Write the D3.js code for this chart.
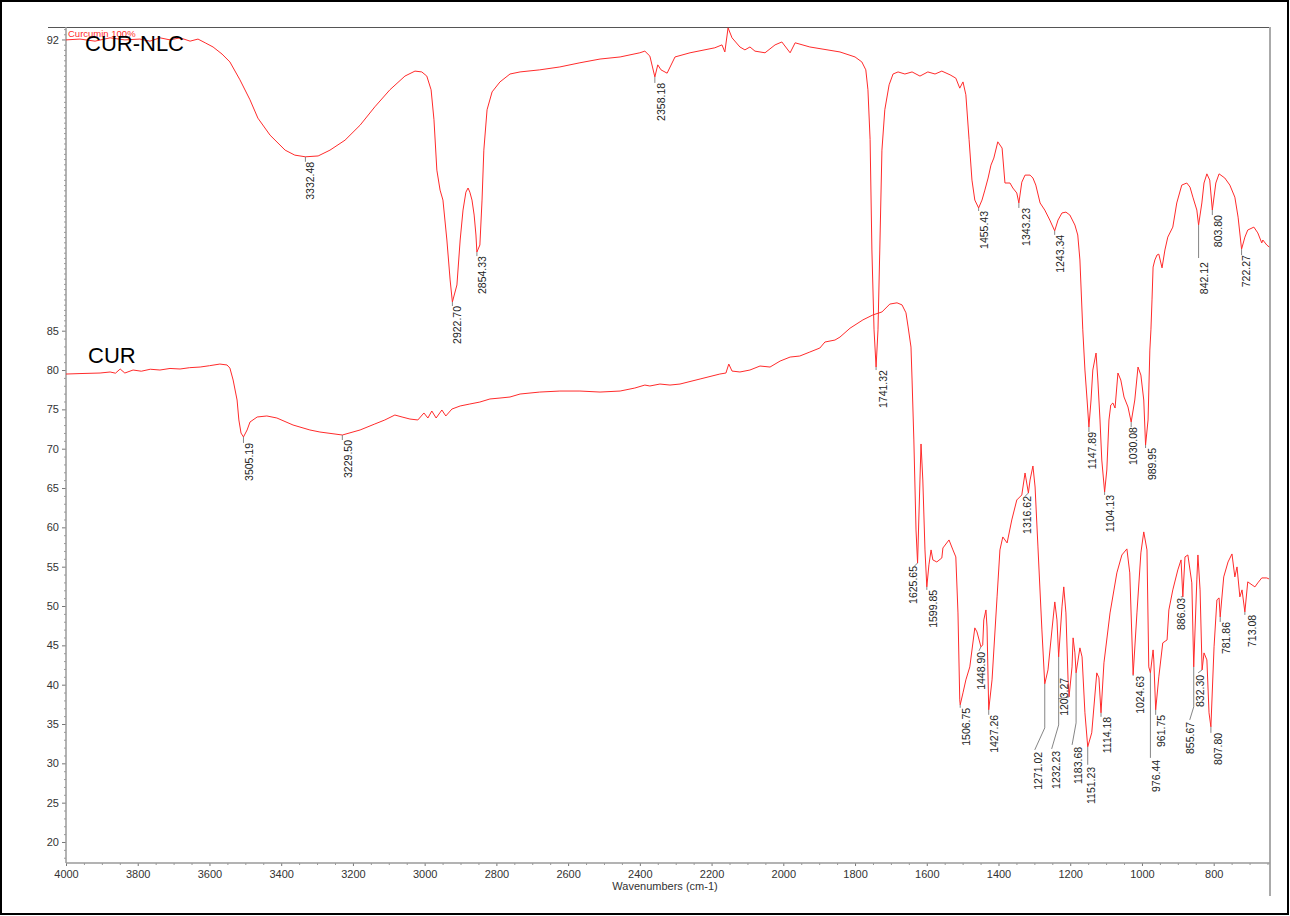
<!DOCTYPE html>
<html><head><meta charset="utf-8">
<script src="https://cdn.jsdelivr.net/npm/d3@7"></script>
<style>
html,body{margin:0;padding:0;background:#fff;}
svg{display:block;}
text{font-family:"Liberation Sans",Arial,sans-serif;}
</style></head><body>
<svg id="chart" width="1290" height="916"></svg>
<script>
// ---------- DATA ----------
const curNlcSpectrum = [
[4000,91.99],[3961,92.01],[3919,91.96],[3877,92.04],[3836,91.99],[3794,92.01],[3766,91.96],[3738,92.04],[3710,91.99],[3682,92.04],[3654,91.96],[3632,92.01],[3612,91.92],[3590,91.82],[3565,91.65],[3543,91.46],[3515,91.03],[3487,90.55],[3465,90.11],[3431,89.70],[3389,89.34],[3362,89.22],[3332.48,89.18],[3297,89.20],[3264,89.34],[3222,89.58],[3180,89.94],[3139,90.38],[3097,90.79],[3055,91.12],[3027,91.24],[3008,91.22],[2994,91.12],[2982,90.79],[2974,90.07],[2966,88.86],[2957,88.38],[2949,88.14],[2938,87.18],[2929,86.22],[2922.70,85.69],[2910,86.10],[2901,87.18],[2893,87.90],[2885,88.33],[2879,88.43],[2874,88.33],[2868,88.14],[2862,87.78],[2857,87.30],[2854.33,86.89],[2846,87.06],[2840,88.14],[2835,89.34],[2826,90.31],[2812,90.74],[2790,90.98],[2762,91.17],[2734,91.22],[2679,91.27],[2623,91.34],[2567,91.44],[2511,91.53],[2455,91.58],[2400,91.68],[2386,91.72],[2372,91.60],[2358.18,91.10],[2350,91.39],[2341,91.27],[2324,91.19],[2302,91.58],[2260,91.68],[2191,91.80],[2171,91.87],[2163,91.70],[2154,92.28],[2143,92.04],[2121,91.82],[2107,91.75],[2093,91.82],[2079,91.72],[2051,91.68],[2023,91.87],[2004,91.94],[1981,91.68],[1967,91.92],[1926,91.82],[1842,91.70],[1800,91.58],[1781,91.46],[1770,91.27],[1764,90.79],[1758,89.59],[1753,86.94],[1747,85.02],[1741.32,80.38],[1736,85.02],[1731,86.94],[1725,89.34],[1717,90.31],[1705,90.91],[1694,91.17],[1680,91.22],[1661,91.17],[1641,91.22],[1619,91.12],[1597,91.22],[1577,91.17],[1558,91.24],[1535,91.15],[1519,91.07],[1508,90.83],[1499,90.98],[1491,90.67],[1482,89.59],[1474,88.62],[1466,88.14],[1455.43,87.95],[1446,88.14],[1438,88.38],[1429,88.67],[1421,88.98],[1413,89.15],[1402,89.54],[1390,89.39],[1382,88.55],[1368,88.55],[1360,88.43],[1349,88.31],[1343.23,88.07],[1335,88.57],[1326,88.74],[1312,88.74],[1304,88.67],[1296,88.50],[1284,88.07],[1271,87.90],[1257,87.66],[1243.34,87.40],[1234,87.66],[1223,87.83],[1212,87.85],[1201,87.78],[1187,87.54],[1179,87.30],[1173,86.70],[1165,85.02],[1159,80.00],[1153,76.19],[1147.89,72.76],[1142,76.19],[1137,80.00],[1128,82.16],[1123,78.73],[1117,73.65],[1112,68.56],[1104.13,64.50],[1098,67.29],[1092,73.65],[1087,75.55],[1081,75.81],[1075,75.17],[1067,79.62],[1059,78.73],[1050,76.57],[1039,75.30],[1030.08,73.39],[1020,76.19],[1011,80.38],[1003,79.36],[995,76.19],[989.95,70.47],[983,73.65],[978,82.54],[975,85.02],[972,85.74],[969,86.53],[964,86.70],[958,86.82],[953,86.84],[944,86.51],[936,86.94],[928,87.25],[914,87.49],[903,88.07],[889,88.50],[875,88.55],[866,88.45],[858,88.21],[847,87.90],[842.12,87.54],[833,88.07],[827,88.55],[819,88.77],[811,88.62],[803.80,87.90],[794,88.55],[785,88.77],[769,88.67],[755,88.50],[741,88.21],[732,87.73],[722.27,86.96],[713,87.25],[705,87.42],[688,87.49],[677,87.35],[666,87.11],[663,87.18],[652,87.06],[645,87.01]
];

const curSpectrum = [
[4000,79.49],[3961,79.55],[3905,79.62],[3877,79.75],[3862,79.60],[3849,80.13],[3836,79.62],[3813,80.00],[3790,79.85],[3765,80.10],[3738,80.00],[3710,80.20],[3682,80.13],[3655,80.30],[3626,80.38],[3600,80.55],[3571,80.76],[3551,80.64],[3543,80.25],[3534,78.73],[3523,76.19],[3518,73.65],[3512,71.99],[3505.19,71.49],[3495,72.38],[3487,73.39],[3467,74.03],[3440,74.16],[3412,73.90],[3367,73.01],[3320,72.38],[3292,72.12],[3229.50,71.74],[3180,72.38],[3139,73.14],[3111,73.65],[3083,74.28],[3063,74.03],[3041,73.77],[3019,73.65],[3002,74.54],[2991,73.90],[2980,74.79],[2968,73.90],[2952,74.92],[2941,74.16],[2924,75.04],[2901,75.43],[2874,75.68],[2846,75.93],[2818,76.32],[2790,76.44],[2762,76.57],[2734,76.95],[2679,77.20],[2623,77.33],[2567,77.33],[2511,77.20],[2455,77.33],[2414,77.71],[2386,78.09],[2372,77.97],[2344,78.22],[2316,78.09],[2288,78.22],[2232,78.86],[2177,79.49],[2160,79.62],[2152,80.76],[2143,79.87],[2121,79.75],[2093,80.00],[2065,80.51],[2037,80.38],[2009,81.14],[1981,81.65],[1954,81.78],[1926,82.29],[1898,82.80],[1884,83.56],[1856,83.81],[1842,84.19],[1814,85.06],[1778,85.26],[1750,85.38],[1725,85.45],[1703,85.64],[1683,85.67],[1669,85.62],[1658,85.43],[1652,85.09],[1644,82.92],[1641,78.73],[1636,71.11],[1630,59.67],[1625.65,55.47],[1619,66.02],[1616,70.60],[1611,66.02],[1605,57.13],[1599.85,52.43],[1594,55.23],[1588,57.13],[1583,55.86],[1572,55.60],[1558,56.11],[1555,57.38],[1538,58.40],[1527,57.13],[1519,56.24],[1513,49.12],[1508,38.07],[1506.75,37.44],[1499,38.96],[1491,40.61],[1480,42.26],[1466,47.22],[1460,46.71],[1448.90,44.81],[1444,45.06],[1441,48.23],[1435,49.50],[1432,47.34],[1427.26,36.80],[1418,40.61],[1404,51.16],[1396,57.13],[1388,58.78],[1376,58.02],[1363,60.94],[1349,63.48],[1335,64.12],[1326,66.91],[1316.62,64.37],[1312,66.02],[1304,67.80],[1298,65.13],[1290,57.51],[1279,46.96],[1271.02,40.10],[1262,41.88],[1251,46.96],[1243,50.52],[1237,48.23],[1232.23,43.53],[1223,49.89],[1218,52.43],[1212,49.12],[1206,40.61],[1203.27,38.45],[1195,42.26],[1192,45.95],[1187,44.04],[1183.68,41.50],[1173,44.68],[1167,43.53],[1159,36.42],[1151.23,32.10],[1140,33.88],[1126,41.50],[1120,40.87],[1114.18,36.42],[1106,42.77],[1089,49.12],[1070,54.21],[1056,56.49],[1042,57.26],[1034,54.21],[1024.63,41.25],[1014,49.12],[1003,56.75],[995,59.42],[986,57.13],[981,42.26],[976.44,41.50],[969,44.42],[967,43.15],[961.75,36.80],[953,40.99],[942,45.31],[930,45.69],[925,49.50],[914,52.05],[900,54.59],[891,55.86],[886.03,51.16],[880,56.24],[872,56.49],[861,52.94],[855.67,42.26],[847,53.32],[844,56.49],[838,52.05],[832.30,41.88],[827,44.04],[819,43.15],[813,36.42],[807.80,34.64],[799,44.81],[791,50.78],[785,51.03],[781.86,48.61],[772,53.70],[760,55.60],[749,56.62],[741,53.70],[735,54.97],[727,51.16],[721,52.05],[713.08,49.25],[705,53.07],[693,52.68],[685,52.43],[677,52.94],[666,53.57],[652,53.57],[646,53.45]
];

const curNlcPeaks = [3332.48, 2922.70, 2854.33, 2358.18, 1741.32, 1455.43, 1343.23, 1243.34, 1147.89, 1104.13, 1030.08, 989.95, 842.12, 803.80, 722.27];
const curPeaks = [3505.19, 3229.50, 1625.65, 1599.85, 1506.75, 1448.90, 1427.26, 1316.62, 1271.02, 1232.23, 1203.27, 1183.68, 1151.23, 1114.18, 1024.63, 976.44, 961.75, 886.03, 855.67, 832.30, 807.80, 781.86, 713.08];

const xTickLabels = [4000, 3800, 3600, 3400, 3200, 3000, 2800, 2600, 2400, 2200, 2000, 1800, 1600, 1400, 1200, 1000, 800];
const yTickLabels = [20, 25, 30, 35, 40, 45, 50, 55, 60, 65, 70, 75, 80, 85, 92];
const seriesNames = ["CUR-NLC", "CUR"];
const fileTitle = "Curcumin 100%";
const xAxisTitle = "Wavenumbers (cm-1)";

// ---------- LAYOUT (label offsets in px relative to the peak) ----------
const labelLayout = {
  "3332.48":{dx:5,dy:5}, "2922.70":{dx:5,dy:4}, "2854.33":{dx:5,dy:4}, "2358.18":{dx:6,dy:6},
  "1741.32":{dx:7,dy:3}, "1455.43":{dx:6,dy:3}, "1343.23":{dx:7,dy:5}, "1243.34":{dx:6,dy:4},
  "1147.89":{dx:3,dy:5}, "1104.13":{dx:6,dy:3}, "1030.08":{dx:2,dy:5}, "989.95":{dx:7,dy:3},
  "842.12":{dx:6,dy:37,leader:[[0,0],[0,33]]}, "803.80":{dx:6,dy:5}, "722.27":{dx:5,dy:6},
  "3505.19":{dx:6,dy:6}, "3229.50":{dx:6,dy:5},
  "1625.65":{dx:-4,dy:3,leader:[[0,0],[-3,3]]}, "1599.85":{dx:6,dy:3}, "1506.75":{dx:6,dy:3},
  "1448.90":{dx:0,dy:5,leader:[[0,0],[-2,4]]}, "1427.26":{dx:6,dy:5},
  "1316.62":{dx:-1,dy:3,leader:[[0,0],[-3,3]]},
  "1271.02":{dx:-6,dy:68,leader:[[0,0],[0,44],[-10,66]]},
  "1232.23":{dx:-2,dy:94,leader:[[0,0],[0,68],[-7,92]]},
  "1203.27":{dx:-5,dy:-19,leader:[[0,0],[-11,2]]},
  "1183.68":{dx:2,dy:74,leader:[[0,0],[0,50],[-4,72]]},
  "1151.23":{dx:4,dy:20,leader:[[0,0],[0,18]]}, "1114.18":{dx:6,dy:4}, "1024.63":{dx:7,dy:1},
  "976.44":{dx:6,dy:87,leader:[[0,0],[0,85]]}, "961.75":{dx:6,dy:5},
  "886.03":{dx:-2,dy:1,leader:[[0,0],[-2,0]]},
  "855.67":{dx:-3,dy:55,leader:[[0,0],[0,40],[-4,53]]},
  "832.30":{dx:-2,dy:5,leader:[[0,0],[-4,3]]}, "807.80":{dx:7,dy:6}, "781.86":{dx:6,dy:5}, "713.08":{dx:7,dy:3}
};

// ---------- DRAW ----------
const svg = d3.select("#chart");
svg.append("rect").attr("x",1).attr("y",1).attr("width",1287).attr("height",913)
  .attr("fill","#fff").attr("stroke","#000").attr("stroke-width",2);

const x = d3.scaleLinear().domain([4000, 643]).range([66, 1270]);
const y = d3.scaleLinear().domain([17.33, 85, 92.3]).range([863, 330.7, 27]);

const axisColor = "#9a9a9a";
const txtColor = "#333";

// frame lines
svg.append("line").attr("x1",48).attr("x2",1270).attr("y1",27.5).attr("y2",27.5).attr("stroke","#555").attr("stroke-width",1);
svg.append("line").attr("x1",1270).attr("x2",1270).attr("y1",27).attr("y2",896).attr("stroke","#aaa").attr("stroke-width",2);

// Y axis
const yMinor = [];
for (let v = 18; v < 85; v++) if (v % 5 !== 0) yMinor.push(v);
for (let v = 85.125; v <= 92.26; v += 0.125) if (Math.abs(v - 92) > 0.01) yMinor.push(+v.toFixed(3));
const gY = svg.append("g").attr("transform","translate(66,0)");
gY.call(d3.axisLeft(y).tickValues(yMinor).tickSize(2).tickFormat(""))
  .call(g => g.selectAll(".tick line").attr("stroke", axisColor))
  .call(g => g.select(".domain").remove());
gY.append("g").call(d3.axisLeft(y).tickValues(yTickLabels).tickSize(4).tickPadding(3).tickFormat(d3.format("d")))
  .call(g => g.selectAll(".tick line").attr("stroke", "#777"))
  .call(g => g.selectAll(".tick text").attr("fill", txtColor).style("font-size","11px").style("font-family","'Liberation Sans',Arial,sans-serif"))
  .call(g => g.select(".domain").remove());
svg.append("line").attr("x1",66).attr("x2",66).attr("y1",27).attr("y2",863).attr("stroke",axisColor).attr("stroke-width",1.5);

// X axis
const xMinor = d3.range(3950, 640, -50).filter(v => v % 200 !== 0);
const gX = svg.append("g").attr("transform","translate(0,863)");
gX.call(d3.axisBottom(x).tickValues(xMinor).tickSize(2).tickFormat(""))
  .call(g => g.selectAll(".tick line").attr("stroke", axisColor))
  .call(g => g.select(".domain").remove());
gX.append("g").call(d3.axisBottom(x).tickValues(xTickLabels).tickSize(3).tickPadding(4).tickFormat(d3.format("d")))
  .call(g => g.selectAll(".tick line").attr("stroke", "#777"))
  .call(g => g.selectAll(".tick text").attr("fill", txtColor).style("font-size","11px").style("font-family","'Liberation Sans',Arial,sans-serif"))
  .call(g => g.select(".domain").remove());
svg.append("line").attr("x1",66).attr("x2",1270).attr("y1",863).attr("y2",863).attr("stroke",axisColor).attr("stroke-width",1.5);

svg.append("text").attr("x",665).attr("y",890).attr("text-anchor","middle")
  .attr("fill",txtColor).style("font-size","11px").text(xAxisTitle);

// spectra
const line = d3.line().x(d => x(d[0])).y(d => y(d[1]));
const plot = svg.append("g");
[curNlcSpectrum, curSpectrum].forEach(s => {
  plot.append("path").datum(s).attr("d", line).attr("fill","none")
    .attr("stroke","#ff2b2b").attr("stroke-width",1).attr("stroke-linejoin","round");
});

// file title & series names
svg.append("text").attr("x",68).attr("y",37).attr("fill","#ff2b2b").style("font-size","9.5px").text(fileTitle);
svg.append("text").attr("x",85).attr("y",51).attr("fill","#000").style("font-size","22px").text(seriesNames[0]);
svg.append("text").attr("x",88).attr("y",363).attr("fill","#000").style("font-size","22px").text(seriesNames[1]);

// peak labels
function nearest(spec, wn) {
  let best = spec[0];
  spec.forEach(p => { if (Math.abs(p[0]-wn) < Math.abs(best[0]-wn)) best = p; });
  return best;
}
const labelG = svg.append("g");
function drawPeaks(peaks, spec) {
  peaks.forEach(wn => {
    const key = wn.toFixed(2);
    const p = nearest(spec, wn);
    const px = x(wn), py = y(p[1]);
    const L = labelLayout[key] || {dx:5, dy:4};
    const leader = L.leader || [[0,0],[0,L.dy]];
    labelG.append("polyline")
      .attr("points", leader.map(q => [px+q[0], py+q[1]].join(",")).join(" "))
      .attr("fill","none").attr("stroke","#777").attr("stroke-width",0.9);
    labelG.append("text")
      .attr("transform", `translate(${px+L.dx},${py+L.dy}) rotate(-90)`)
      .attr("text-anchor","end").attr("dy","0.35em")
      .attr("fill","#222").style("font-size","10.5px").text(key);
  });
}
drawPeaks(curNlcPeaks, curNlcSpectrum);
drawPeaks(curPeaks, curSpectrum);
</script>
</body></html>
